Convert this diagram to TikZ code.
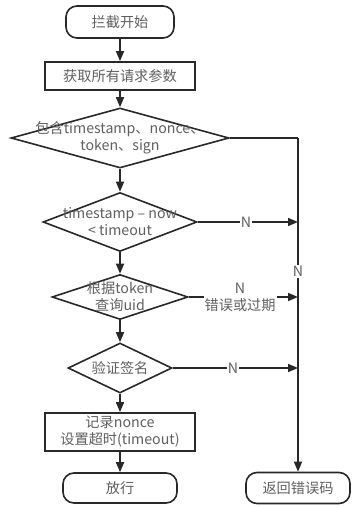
\documentclass[tikz,border=0pt]{standalone}
\usepackage{fontspec}
\setmainfont{Noto Sans CJK SC}
\usepackage{xcolor}
\usetikzlibrary{arrows.meta, positioning, shapes.geometric}
\definecolor{flowline}{RGB}{40,40,40}
\definecolor{flowtext}{RGB}{95,95,95}

\begin{document}
\begin{tikzpicture}[
    x=1pt, y=-1pt,
    term/.style={draw=flowline, line width=1.6pt, rounded corners=11pt,
                 fill=white, text=flowtext, font=\fontsize{14.2}{17}\selectfont},
    proc/.style={draw=flowline, line width=1.6pt, fill=white, align=center,
                 text=flowtext, font=\fontsize{14.2}{17}\selectfont},
    decide/.style={diamond, draw=flowline, line width=1.6pt, inner sep=0pt},
    textlab/.style={text=flowtext, align=center, inner sep=0pt,
                    font=\fontsize{14.2}{17}\selectfont},
    flow/.style={draw=flowline, line width=1.6pt,
                 -{Triangle[length=10pt, width=8pt]}},
    nlab/.style={fill=white, text=flowtext, inner sep=1pt, align=center,
                 font=\fontsize{14.2}{17}\selectfont}
]
\useasboundingbox (0,0) rectangle (359,508);
% colonna principale
\node[term, minimum width=108pt, minimum height=32pt] (start) at (120,22) {拦截开始};
\node[proc, minimum width=150pt, minimum height=28pt] (params) at (120,76) {获取所有请求参数};
\node[decide, minimum width=218pt, minimum height=60pt,
      label={[textlab]center:包含timestamp、nonce、\\token、sign}] (hasall) at (120,138) {};
\node[decide, minimum width=154pt, minimum height=59pt,
      label={[textlab]center:timestamp -- now\\< timeout}] (window) at (120,222) {};
\node[decide, minimum width=136pt, minimum height=45pt,
      label={[textlab]center:根据token\\查询uid}] (token) at (120,297) {};
\node[decide, minimum width=104pt, minimum height=50pt,
      label={[textlab]center:验证签名}] (sign) at (120,368) {};
\node[proc, minimum width=150pt, minimum height=36pt] (record) at (120,432)
    {记录nonce\\设置超时(timeout)};
\node[term, minimum width=114pt, minimum height=30pt] (pass) at (120,488) {放行};
% colonna errore
\node[term, minimum width=104pt, minimum height=31pt] (err) at (298,488) {返回错误码};
\coordinate (rail) at (298,138);

% frecce verticali
\foreach \a/\b in {start/params, params/hasall, hasall/window,
                   window/token, token/sign, sign/record, record/pass}{
    \draw[flow] (\a) -- (\b);
}
% ramo N
\draw[draw=flowline, line width=1.6pt] (hasall.east) -- (rail);
\draw[flow] (rail) -- (err.north) node[nlab, pos=0.4] {N};
\draw[flow] (window.east) -- (window.east -| rail) node[nlab, pos=0.48] {N};
\draw[flow] (token.east) -- (token.east -| rail) node[nlab, pos=0.47] {N\\错误或过期};
\draw[flow] (sign.east) -- (sign.east -| rail) node[nlab, pos=0.48] {N};
\end{tikzpicture}
\end{document}
